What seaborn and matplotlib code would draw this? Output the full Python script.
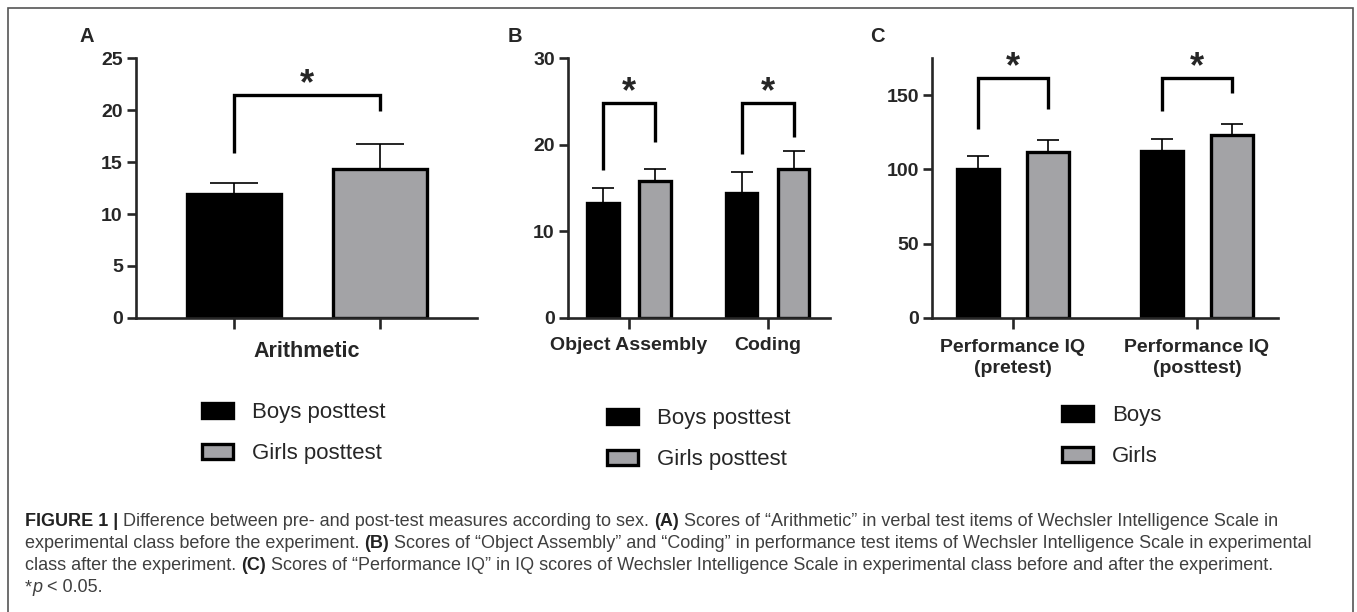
import numpy as np
import pandas as pd
import matplotlib
matplotlib.use("Agg")
import matplotlib.pyplot as plt
import matplotlib.patches as mpatches
import seaborn as sns

sns.set_theme(style="ticks")
plt.rcParams['font.family'] = ['Liberation Sans', 'DejaVu Sans']

# ---- data ----
# A: Arithmetic
a_groups = ['Boys posttest', 'Girls posttest']
a_mean = [11.9, 14.3]
a_sd = [1.1, 2.4]
a_bracket = [15.9, 21.45, 19.9]          # left foot, top, right foot

# B: Object Assembly / Coding
b_items = ['Object Assembly', 'Coding']
b_sex = ['Boys posttest', 'Girls posttest']
b_boys_mean = [13.3, 14.4]
b_boys_sd = [1.75, 2.4]
b_girls_mean = [15.8, 17.25]
b_girls_sd = [1.4, 2.0]
b_brackets = [[17.05, 24.8, 20.3], [18.9, 24.8, 20.9]]

# C: Performance IQ
c_items = ['Performance IQ\n(pretest)', 'Performance IQ\n(posttest)']
c_sex = ['Boys', 'Girls']
c_boys_mean = [100.0, 112.2]
c_boys_sd = [8.8, 8.5]
c_girls_mean = [111.7, 123.4]
c_girls_sd = [8.3, 6.9]
c_brackets = [[127.4, 161.4, 140.6], [139.5, 161.4, 151.3]]

BLACK = '#000000'
GRAY = '#a3a3a7'
pal = [BLACK, GRAY]

fig = plt.figure(figsize=(13.57, 6.12), dpi=100)
W, H = 1357, 612


def px_axes(left, top, right, bottom):
    return fig.add_axes([left / W, 1 - bottom / H, (right - left) / W, (bottom - top) / H])


def style_axes(ax, xpad=5):
    sns.despine(ax=ax)
    for s in ['left', 'bottom']:
        ax.spines[s].set_linewidth(1.9)
    ax.tick_params(axis='y', direction='out', length=6.5, width=1.9, labelsize=14, pad=3)
    ax.tick_params(axis='x', direction='out', length=8, width=1.9, labelsize=14, pad=xpad)
    for lab in ax.get_yticklabels() + ax.get_xticklabels():
        lab.set_fontweight('bold')
    ax.set_ylabel('')
    ax.patch.set_alpha(0)


def add_errors(ax, means_by_hue, sds_by_hue, capsize):
    for cont, m, s in zip(ax.containers, means_by_hue, sds_by_hue):
        xs = [p.get_x() + p.get_width() / 2 for p in cont.patches]
        ax.errorbar(xs, m, yerr=[np.zeros(len(s)), s], fmt='none', ecolor='black',
                    elinewidth=1.2, capsize=capsize, capthick=1.2, zorder=1)


def add_bracket(ax, xl, xr, levels, star_off):
    lf, top, rf = levels
    ax.plot([xl, xl, xr, xr], [lf, top, top, rf], color='black', lw=2.4,
            solid_joinstyle='miter', solid_capstyle='butt', zorder=4)
    ax.annotate('*', xy=((xl + xr) / 2, top), xytext=(0, star_off), textcoords='offset points',
                ha='center', va='baseline', fontsize=26, fontweight='bold')


def add_legend(labels, x, y):
    handles = [mpatches.Patch(facecolor=c, edgecolor='black', linewidth=2.4) for c in pal]
    fig.legend(handles, labels, loc='center left', bbox_to_anchor=(x / W, 1 - y / H),
               bbox_transform=fig.transFigure, frameon=False, fontsize=16,
               handlelength=1.4, handleheight=0.65, handletextpad=0.85,
               labelspacing=0.9, borderpad=0, borderaxespad=0)


# ---- panel A ----
axA = px_axes(136, 58, 477, 318)
dfA = pd.DataFrame({'group': a_groups, 'score': a_mean})
sns.barplot(data=dfA, x='group', y='score', hue='group', palette=pal, width=0.64,
            errorbar=None, legend=False, edgecolor='black', linewidth=2.4, ax=axA)
add_errors(axA, [[m] for m in a_mean], [[s] for s in a_sd], capsize=17)
axA.set_xlim(-0.671, 1.664)
axA.set_ylim(0, 25)
axA.set_yticks([0, 5, 10, 15, 20, 25])
axA.set_xticks([0, 1])
axA.set_xticklabels(['', ''])
style_axes(axA)
axA.set_xlabel('Arithmetic', fontsize=15.5, fontweight='bold')
axA.xaxis.set_label_coords(0.5, -0.09)
add_bracket(axA, 0, 1, a_bracket, 0.5)
add_legend(a_groups, 202, 433)

# ---- panel B ----
axB = px_axes(568, 58, 830, 318)
dfB = pd.DataFrame({'item': b_items * 2,
                    'sex': [b_sex[0]] * 2 + [b_sex[1]] * 2,
                    'score': b_boys_mean + b_girls_mean})
sns.barplot(data=dfB, x='item', y='score', hue='sex', palette=pal, width=0.75, gap=0.4,
            errorbar=None, legend=False, edgecolor='black', linewidth=2.4, ax=axB)
add_errors(axB, [b_boys_mean, b_girls_mean], [b_boys_sd, b_girls_sd], capsize=8)
axB.set_xlim(-0.44, 1.45)
axB.set_ylim(0, 30)
axB.set_yticks([0, 10, 20, 30])
axB.set_xlabel('')
style_axes(axB, xpad=5.5)
for i, lv in enumerate(b_brackets):
    pb = axB.containers[0].patches[i]
    pg = axB.containers[1].patches[i]
    add_bracket(axB, pb.get_x() + pb.get_width() / 2, pg.get_x() + pg.get_width() / 2, lv, 0.5)
add_legend(b_sex, 607, 439)

# ---- panel C ----
axC = px_axes(932, 58, 1278, 318)
dfC = pd.DataFrame({'item': c_items * 2,
                    'sex': [c_sex[0]] * 2 + [c_sex[1]] * 2,
                    'score': c_boys_mean + c_girls_mean})
sns.barplot(data=dfC, x='item', y='score', hue='sex', palette=pal, width=0.76, gap=0.4,
            errorbar=None, legend=False, edgecolor='black', linewidth=2.4, ax=axC)
add_errors(axC, [c_boys_mean, c_girls_mean], [c_boys_sd, c_girls_sd], capsize=8)
axC.set_xlim(-0.44, 1.44)
axC.set_ylim(0, 175)
axC.set_yticks([0, 50, 100, 150])
axC.set_xlabel('')
style_axes(axC, xpad=7)
for lab in axC.get_xticklabels():
    lab.set_linespacing(1.35)
for i, lv in enumerate(c_brackets):
    pb = axC.containers[0].patches[i]
    pg = axC.containers[1].patches[i]
    add_bracket(axC, pb.get_x() + pb.get_width() / 2, pg.get_x() + pg.get_width() / 2, lv, 0.5)
add_legend(c_sex, 1062, 436.5)

# panel letters
for letter, x in zip(['A', 'B', 'C'], [80, 508, 870]):
    fig.text(x / W, 1 - 36 / H, letter, fontsize=14.5, fontweight='bold', va='center', ha='left')

# frame
fig.add_artist(mpatches.Rectangle((8 / W, -0.01), (1353 - 8) / W, 1.01 - 8 / H,
                                  transform=fig.transFigure, fill=False,
                                  edgecolor='#555555', linewidth=1.2))

# caption, drawn piece by piece so bold and regular runs sit on one line
caption = [
    [("FIGURE 1 | ", 'bold', 'normal'),
     ("Difference between pre- and post-test measures according to sex. ", 'normal', 'normal'),
     ("(A)", 'bold', 'normal'),
     (" Scores of \u201cArithmetic\u201d in verbal test items of Wechsler Intelligence Scale in", 'normal', 'normal')],
    [("experimental class before the experiment. ", 'normal', 'normal'),
     ("(B)", 'bold', 'normal'),
     (" Scores of \u201cObject Assembly\u201d and \u201cCoding\u201d in performance test items of Wechsler Intelligence Scale in experimental", 'normal', 'normal')],
    [("class after the experiment. ", 'normal', 'normal'),
     ("(C)", 'bold', 'normal'),
     (" Scores of \u201cPerformance IQ\u201d in IQ scores of Wechsler Intelligence Scale in experimental class before and after the experiment.", 'normal', 'normal')],
    [("*", 'normal', 'normal'), ("p", 'normal', 'italic'), (" < 0.05.", 'normal', 'normal')],
]
line_y = [521, 544, 566, 588]
renderer = fig.canvas.get_renderer()
for pieces, yy in zip(caption, line_y):
    x = 25
    for txt, wt, st in pieces:
        t = fig.text(x / W, 1 - yy / H, txt, fontsize=13, fontweight=wt, fontstyle=st,
                     color='#222222' if wt == 'bold' else '#3f3f3f', va='center', ha='left')
        x += t.get_window_extent(renderer).width

fig.savefig('out.png', dpi=100)
